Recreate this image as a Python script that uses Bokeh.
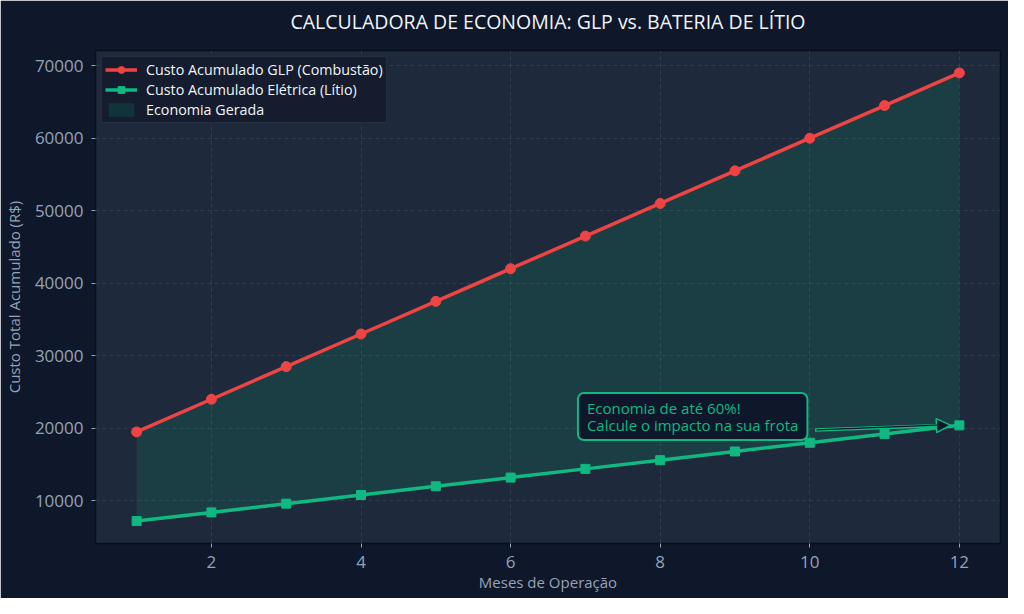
from bokeh.plotting import figure
from bokeh.embed import file_html
from bokeh.resources import INLINE
from bokeh.models import Label, Arrow, NormalHead, FixedTicker, Range1d, Legend, Title

meses = [1, 2, 3, 4, 5, 6, 7, 8, 9, 10, 11, 12]
custo_glp = [19500, 24000, 28500, 33000, 37500, 42000, 46500, 51000, 55500, 60000, 64500, 69000]
custo_eletrica = [7200, 8400, 9600, 10800, 12000, 13200, 14400, 15600, 16800, 18000, 19200, 20400]
x_ticks = [2, 4, 6, 8, 10, 12]
y_ticks = [10000, 20000, 30000, 40000, 50000, 60000, 70000]
titulo = "CALCULADORA DE ECONOMIA: GLP vs. BATERIA DE LÍTIO"
nota = "Economia de até 60%!\nCalcule o impacto na sua frota"

FONT = "Open Sans"
BG = "#0f172a"
PLOT_BG = "#1e293b"
RED = "#ef4444"
GREEN = "#10b981"
MUTED = "#94a3b8"

p = figure(width=1008, height=598, output_backend="svg", toolbar_location=None,
           title_location=None,
           x_range=Range1d(0.45, 12.55), y_range=Range1d(4110, 72090),
           min_border_left=93, min_border_right=8, min_border_top=50, min_border_bottom=55)
p.background_fill_color = PLOT_BG
p.border_fill_color = BG
p.outline_line_color = "#0a0f1c"
p.outline_line_width = 1.5

# spacer next to the frame (same colour as the background), then the title above it
spacer = Title(text=".", text_font_size="10px", text_color=BG, standoff=5)
p.add_layout(spacer, "above")
main_title = Title(text=titulo, align="center", vertical_align="middle", standoff=0,
                   text_color="#f1f5f9", text_font=FONT, text_font_size="19.5px",
                   text_font_style="normal")
p.add_layout(main_title, "above")

area = p.varea(x=meses, y1=custo_eletrica, y2=custo_glp, fill_color=GREEN, fill_alpha=0.15)
l1 = p.line(meses, custo_glp, line_color=RED, line_width=3.5)
s1 = p.scatter(meses, custo_glp, marker="circle", size=10, fill_color=RED, line_color=RED)
l2 = p.line(meses, custo_eletrica, line_color=GREEN, line_width=3.5)
s2 = p.scatter(meses, custo_eletrica, marker="square", size=9, fill_color=GREEN, line_color=GREEN)

legend = Legend(items=[("Custo Acumulado GLP (Combustão)", [l1, s1]),
                       ("Custo Acumulado Elétrica (Lítio)", [l2, s2]),
                       ("Economia Gerada", [area])],
                location="top_left")
legend.margin = 6
legend.padding = 3
legend.spacing = 1
legend.glyph_width = 32
legend.glyph_height = 17
legend.label_standoff = 9
legend.label_height = 17
legend.label_text_font = FONT
legend.label_text_font_size = "14.3px"
legend.label_text_color = "#f1f5f9"
legend.background_fill_color = "#131b2e"
legend.background_fill_alpha = 0.9
legend.border_line_color = "#334155"
legend.border_line_width = 1
legend.border_radius = 3
p.add_layout(legend, "center")

for ax in (p.xaxis[0], p.yaxis[0]):
    ax.axis_line_color = "#0a0f1c"
    ax.major_tick_line_color = MUTED
    ax.major_tick_out = 4
    ax.major_tick_in = 0
    ax.minor_tick_line_color = None
    ax.major_label_text_color = MUTED
    ax.major_label_text_font = FONT
    ax.major_label_text_font_size = "17px"
    ax.axis_label_text_color = MUTED
    ax.axis_label_text_font = FONT
    ax.axis_label_text_font_size = "15px"
    ax.axis_label_text_font_style = "normal"

p.xaxis.ticker = FixedTicker(ticks=x_ticks)
p.yaxis.ticker = FixedTicker(ticks=y_ticks)
p.xaxis.axis_label = "Meses de Operação"
p.yaxis.axis_label = "Custo Total Acumulado (R$)"
p.xaxis.major_label_standoff = 8
p.yaxis.major_label_standoff = 8
p.xaxis.axis_label_standoff = 1
p.yaxis.axis_label_standoff = 8

for g in (p.xgrid[0], p.ygrid[0]):
    g.grid_line_color = "#475569"
    g.grid_line_alpha = 0.45
    g.grid_line_dash = "4 3"
    g.grid_line_width = 1

arrow_bg = Arrow(end=NormalHead(size=14, fill_color=BG, line_color=GREEN, line_width=1.5),
                 x_start=10.07, y_start=19770, x_end=11.88, y_end=20430,
                 line_color=GREEN, line_width=3.5)
p.add_layout(arrow_bg)
arrow_fg = Arrow(end=None, x_start=10.09, y_start=19770, x_end=11.7, y_end=20420,
                 line_color=BG, line_width=1.2)
p.add_layout(arrow_fg)

note = Label(x=6.9, y=21630, text=nota,
             text_color=GREEN, text_font=FONT, text_font_size="15px",
             text_baseline="middle", text_align="left", text_line_height=0.85,
             background_fill_color=BG, background_fill_alpha=1.0,
             border_line_color=GREEN, border_line_width=2, border_radius=6,
             padding=dict(left=9, right=9, top=5, bottom=5))
p.add_layout(note)

open("out.html", "w").write(file_html(p, INLINE))
